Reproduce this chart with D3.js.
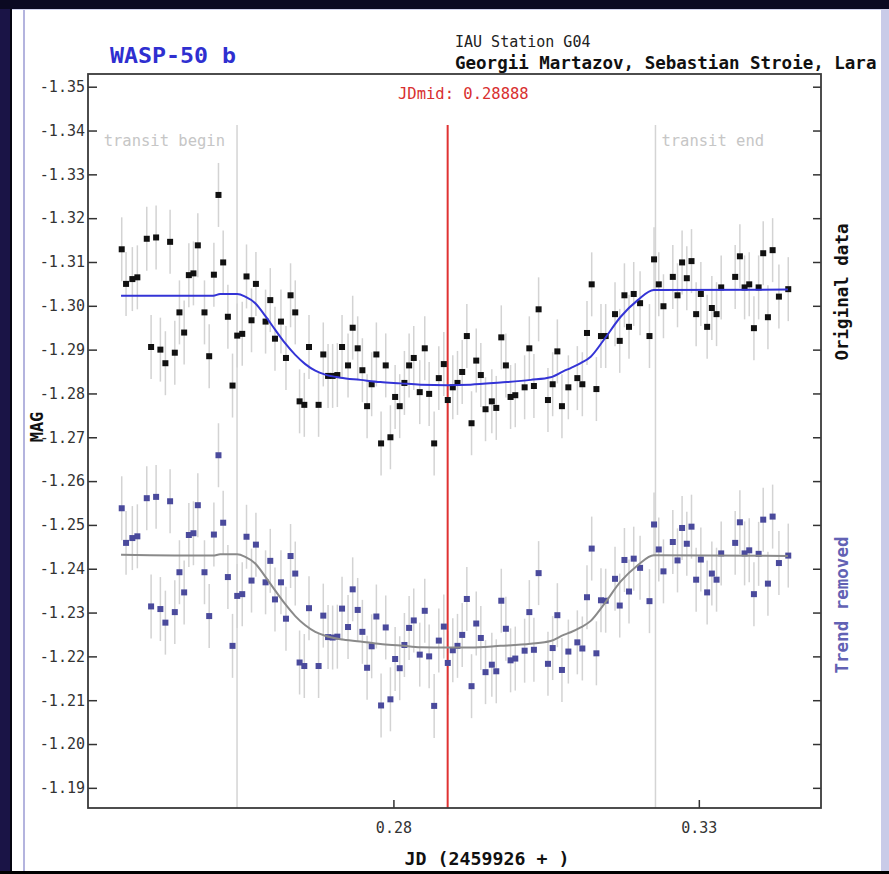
<!DOCTYPE html>
<html lang="en">
<head>
    <meta charset="UTF-8">
    <title>WASP-50 b light curve</title>
    <script src="https://d3js.org/d3.v7.min.js"></script>
    <style>
        body { margin: 0; background: #1a1446; }
        text { font-family: "DejaVu Sans Mono", monospace; }
    </style>
</head>
<body>
    <div id="lc"></div>
    <script>
        // observation times (JD - 2459926)
        const jd = [0.23552, 0.23623, 0.23726, 0.23808, 0.23962, 0.24033, 0.24115, 0.24185, 0.24267, 0.24344,
            0.24421, 0.24497, 0.24574, 0.24651, 0.24726, 0.24798, 0.24907, 0.24984, 0.25061, 0.25136,
            0.25213, 0.25290, 0.25366, 0.25443, 0.25525, 0.25595, 0.25677, 0.25749, 0.25907, 0.25984,
            0.26061, 0.26159, 0.26241, 0.26316, 0.26393, 0.26464, 0.26541, 0.26618, 0.26775, 0.26852,
            0.26930, 0.27005, 0.27082, 0.27159, 0.27257, 0.27333, 0.27415, 0.27492, 0.27569, 0.27644,
            0.27721, 0.27798, 0.27874, 0.27951, 0.28028, 0.28103, 0.28180, 0.28257, 0.28333, 0.28431,
            0.28513, 0.28585, 0.28667, 0.28743, 0.28825, 0.28890, 0.28972, 0.29049, 0.29126, 0.29202,
            0.29279, 0.29356, 0.29431, 0.29508, 0.29611, 0.29684, 0.29766, 0.29841, 0.29918, 0.29995,
            0.30148, 0.30225, 0.30300, 0.30377, 0.30530, 0.30607, 0.30684, 0.30759, 0.30864, 0.31011,
            0.31093, 0.31169, 0.31246, 0.31323, 0.31398, 0.31475, 0.31628, 0.31705, 0.31782, 0.31857,
            0.31934, 0.32038, 0.32192, 0.32267, 0.32344, 0.32421, 0.32574, 0.32651, 0.32726, 0.32803,
            0.32880, 0.32956, 0.33033, 0.33136, 0.33213, 0.33290, 0.33366, 0.33595, 0.33672, 0.33749,
            0.33825, 0.33902, 0.33979, 0.34054, 0.34131, 0.34208, 0.34311, 0.34464];

        // original magnitudes
        const magOrig = [-1.3129, -1.3050, -1.3061, -1.3065, -1.3153, -1.2906, -1.3156, -1.2900, -1.2869, -1.3146,
            -1.2893, -1.2985, -1.2939, -1.3070, -1.3074, -1.3138, -1.2985, -1.2885, -1.3071, -1.3253,
            -1.3099, -1.2975, -1.2818, -1.2932, -1.2936, -1.3067, -1.2967, -1.3050, -1.2964, -1.3013,
            -1.2925, -1.2964, -1.2881, -1.3024, -1.2985, -1.2782, -1.2774, -1.2906, -1.2774, -1.2889,
            -1.2840, -1.2840, -1.2842, -1.2906, -1.2864, -1.2950, -1.2903, -1.2853, -1.2771, -1.2821,
            -1.2889, -1.2686, -1.2864, -1.2700, -1.2792, -1.2771, -1.2824, -1.2864, -1.2881, -1.2803,
            -1.2903, -1.2799, -1.2686, -1.2835, -1.2867, -1.2785, -1.2814, -1.2824, -1.2849, -1.2931,
            -1.2732, -1.2875, -1.2842, -1.2764, -1.2782, -1.2767, -1.2928, -1.2864, -1.2792, -1.2796,
            -1.2814, -1.2903, -1.2817, -1.2992, -1.2785, -1.2821, -1.2896, -1.2771, -1.2814, -1.2835,
            -1.2821, -1.2938, -1.3049, -1.2810, -1.2931, -1.2931, -1.2981, -1.2920, -1.3024, -1.2952,
            -1.3027, -1.3006, -1.2931, -1.3106, -1.3049, -1.2999, -1.3066, -1.3024, -1.3099, -1.3063,
            -1.3102, -1.2981, -1.3027, -1.2952, -1.2995, -1.2981, -1.3042, -1.3066, -1.3113, -1.3042,
            -1.3049, -1.2949, -1.3042, -1.3120, -1.2974, -1.3127, -1.3021, -1.3038];

        // trend removed magnitudes
        const magDetr = [-1.2538, -1.2459, -1.2470, -1.2474, -1.2561, -1.2314, -1.2564, -1.2308, -1.2277, -1.2554,
            -1.2301, -1.2392, -1.2346, -1.2477, -1.2481, -1.2545, -1.2392, -1.2292, -1.2478, -1.2659,
            -1.2505, -1.2381, -1.2224, -1.2338, -1.2342, -1.2473, -1.2373, -1.2455, -1.2369, -1.2418,
            -1.2330, -1.2369, -1.2286, -1.2429, -1.2389, -1.2186, -1.2178, -1.2310, -1.2178, -1.2293,
            -1.2244, -1.2243, -1.2245, -1.2309, -1.2267, -1.2353, -1.2306, -1.2256, -1.2174, -1.2223,
            -1.2291, -1.2088, -1.2266, -1.2102, -1.2194, -1.2173, -1.2226, -1.2265, -1.2282, -1.2204,
            -1.2304, -1.2200, -1.2087, -1.2236, -1.2268, -1.2185, -1.2214, -1.2224, -1.2249, -1.2331,
            -1.2132, -1.2275, -1.2242, -1.2164, -1.2181, -1.2166, -1.2327, -1.2263, -1.2191, -1.2195,
            -1.2213, -1.2301, -1.2215, -1.2390, -1.2183, -1.2219, -1.2294, -1.2169, -1.2211, -1.2232,
            -1.2218, -1.2335, -1.2446, -1.2207, -1.2328, -1.2327, -1.2377, -1.2316, -1.2420, -1.2348,
            -1.2423, -1.2402, -1.2326, -1.2501, -1.2444, -1.2394, -1.2461, -1.2419, -1.2493, -1.2457,
            -1.2496, -1.2375, -1.2421, -1.2346, -1.2389, -1.2375, -1.2435, -1.2459, -1.2506, -1.2435,
            -1.2442, -1.2342, -1.2434, -1.2512, -1.2366, -1.2519, -1.2413, -1.2430];

        const magErr = 0.0073;

        // transit model
        const modelJd = [0.23541, 0.25049, 0.25164, 0.25443, 0.25574, 0.25738, 0.25902, 0.26066, 0.26230, 0.26393,
            0.26557, 0.26721, 0.26885, 0.27131, 0.27459, 0.27787, 0.28115, 0.28443, 0.28885, 0.29262,
            0.29754, 0.30246, 0.30574, 0.30787, 0.30902, 0.31066, 0.31230, 0.31443, 0.31721, 0.32000,
            0.32262, 0.34459];
        const modelOrig = [-1.3023, -1.3023, -1.3027, -1.3027, -1.3021, -1.3006, -1.2977, -1.2945, -1.2914, -1.2888,
            -1.2867, -1.2852, -1.2843, -1.2836, -1.2831, -1.2826, -1.2823, -1.2820, -1.2819, -1.2820,
            -1.2825, -1.2831, -1.2837, -1.2851, -1.2858, -1.2869, -1.2884, -1.2922, -1.2975, -1.3013,
            -1.3036, -1.3037];
        const modelDetr = [-1.2432, -1.2430, -1.2433, -1.2433, -1.2427, -1.2412, -1.2382, -1.2350, -1.2319, -1.2292,
            -1.2271, -1.2256, -1.2247, -1.2239, -1.2234, -1.2228, -1.2225, -1.2221, -1.2220, -1.2220,
            -1.2224, -1.2229, -1.2235, -1.2249, -1.2255, -1.2266, -1.2281, -1.2318, -1.2371, -1.2408,
            -1.2431, -1.2429];

        const yTicks = [-1.35, -1.34, -1.33, -1.32, -1.31, -1.30, -1.29, -1.28, -1.27, -1.26,
            -1.25, -1.24, -1.23, -1.22, -1.21, -1.20, -1.19];
        const xTicks = [0.28, 0.33];
        const jdMid = 0.28888, transitBegin = 0.2544, transitEnd = 0.3229;

        const W = 889, H = 874;
        const margin = {top: 74, right: 68, bottom: 66, left: 88},
            width = W - margin.left - margin.right,
            height = H - margin.top - margin.bottom;

        const root = d3.select('#lc')
            .append('svg')
                .attr('width', W)
                .attr('height', H)
                .style('display', 'block');

        // page frame
        root.append('rect').attr('width', W).attr('height', H).attr('fill', '#1a1446');
        root.append('rect').attr('width', W).attr('height', 9).attr('fill', '#0b0922');
        root.append('rect').attr('x', 10).attr('y', 9).attr('width', 3).attr('height', 862).attr('fill', '#050510');
        root.append('rect').attr('x', 12).attr('y', 9).attr('width', W - 12).attr('height', 862).attr('fill', '#ffffff');
        root.append('rect').attr('x', 881).attr('y', 10).attr('width', 8).attr('height', 861).attr('fill', '#c9cbe8');
        root.append('line').attr('x1', 12).attr('x2', W).attr('y1', 9.5).attr('y2', 9.5)
            .attr('stroke', '#cfd0ec').attr('stroke-width', 1);
        root.append('line').attr('x1', 24).attr('x2', 24).attr('y1', 10).attr('y2', 871)
            .attr('stroke', '#b4b4de').attr('stroke-width', 2);
        root.append('rect').attr('y', 871).attr('width', W).attr('height', 3).attr('fill', '#000');

        const svg = root.append('g')
            .attr('transform', `translate(${margin.left}, ${margin.top})`);

        const x = d3.scaleLinear()
            .domain([0.23, 0.35])
            .range([0, width]);
        const y = d3.scaleLinear()
            .domain([-1.3529, -1.1854])
            .range([0, height]);

        // transit markers
        const lineTop = 51;
        [transitBegin, transitEnd].forEach(t => {
            svg.append('line')
                .attr('x1', x(t)).attr('x2', x(t))
                .attr('y1', lineTop).attr('y2', height)
                .attr('stroke', '#d4d4d4').attr('stroke-width', 1.5);
        });
        svg.append('text')
            .attr('x', x(transitBegin) - 12).attr('y', 72)
            .attr('text-anchor', 'end')
            .attr('font-size', 15.5).attr('fill', '#c6c6c6')
            .text('transit begin');
        svg.append('text')
            .attr('x', x(transitEnd) + 6).attr('y', 72)
            .attr('font-size', 15.5).attr('fill', '#c6c6c6')
            .text('transit end');

        // error bars + points
        const data = jd.map((d, i) => ({jd: d, orig: magOrig[i], detr: magDetr[i]}));
        const series = [
            {key: 'orig', color: '#111111'},
            {key: 'detr', color: '#4a4a9c'}
        ];
        series.forEach(s => {
            svg.append('g')
                .selectAll('line')
                .data(data)
                .join('line')
                    .attr('x1', d => x(d.jd)).attr('x2', d => x(d.jd))
                    .attr('y1', d => y(d[s.key] - magErr))
                    .attr('y2', d => y(d[s.key] + magErr))
                    .attr('stroke', '#d3d3d3')
                    .attr('stroke-width', 1.5);
        });

        // mid transit line
        svg.append('line')
            .attr('x1', x(jdMid)).attr('x2', x(jdMid))
            .attr('y1', lineTop).attr('y2', height)
            .attr('stroke', '#e03232').attr('stroke-width', 2);

        series.forEach(s => {
            svg.append('g')
                .selectAll('rect')
                .data(data)
                .join('rect')
                    .attr('x', d => x(d.jd) - 3)
                    .attr('y', d => y(d[s.key]) - 3)
                    .attr('width', 6)
                    .attr('height', 6)
                    .attr('fill', s.color);
        });

        // model curves
        const model = modelJd.map((d, i) => ({jd: d, orig: modelOrig[i], detr: modelDetr[i]}));
        [['orig', '#3434d6'], ['detr', '#8a8a8a']].forEach(([k, c]) => {
            svg.append('path')
                .datum(model)
                .attr('fill', 'none')
                .attr('stroke', c)
                .attr('stroke-width', 2)
                .attr('d', d3.line()
                    .x(d => x(d.jd))
                    .y(d => y(d[k]))
                    .curve(d3.curveMonotoneX));
        });

        // axes
        const fmt = d => d.toFixed(2);
        svg.append('g')
            .call(d3.axisLeft(y).tickValues(yTicks).tickFormat(fmt).tickSize(-9).tickPadding(3))
            .call(g => g.select('.domain').remove())
            .call(g => g.selectAll('text').attr('font-size', 15).attr('fill', '#333')
                .attr('font-family', '"DejaVu Sans Mono", monospace'));
        svg.append('g')
            .attr('transform', `translate(${width}, 0)`)
            .call(d3.axisRight(y).tickValues(yTicks).tickFormat('').tickSize(-8))
            .call(g => g.select('.domain').remove());
        svg.append('g')
            .attr('transform', `translate(0, ${height})`)
            .call(d3.axisBottom(x).tickValues(xTicks).tickFormat(fmt).tickSize(-8).tickPadding(14))
            .call(g => g.select('.domain').remove())
            .call(g => g.selectAll('text').attr('font-size', 15).attr('fill', '#333')
                .attr('font-family', '"DejaVu Sans Mono", monospace'));
        svg.selectAll('.tick line').attr('stroke', '#333').attr('stroke-width', 1.5);

        svg.append('rect')
            .attr('width', width).attr('height', height)
            .attr('fill', 'none')
            .attr('stroke', '#3a3a3a').attr('stroke-width', 1.8);

        // titles and labels
        root.append('text')
            .attr('x', 110).attr('y', 63)
            .attr('font-size', 21).attr('font-weight', 'bold').attr('fill', '#2f2fd0')
            .attr('textLength', 126).attr('lengthAdjust', 'spacingAndGlyphs')
            .text('WASP-50 b');
        root.append('text')
            .attr('x', 455).attr('y', 46.5)
            .attr('font-size', 15).attr('fill', '#222')
            .text('IAU Station G04');
        root.append('text')
            .attr('x', 455).attr('y', 68.5)
            .attr('font-size', 17.5).attr('font-weight', 'bold').attr('fill', '#111')
            .text('Georgii Martazov, Sebastian Stroie, Lara');
        root.append('text')
            .attr('x', 398).attr('y', 99)
            .attr('font-size', 15.5).attr('fill', '#d83030')
            .text('JDmid: 0.28888');
        root.append('text')
            .attr('x', 487).attr('y', 865)
            .attr('text-anchor', 'middle')
            .attr('font-size', 17).attr('font-weight', 'bold').attr('fill', '#111')
            .attr('textLength', 165).attr('lengthAdjust', 'spacingAndGlyphs')
            .text('JD (2459926 + )');
        root.append('text')
            .attr('transform', 'translate(43, 427) rotate(-90)')
            .attr('text-anchor', 'middle')
            .attr('font-size', 17).attr('font-weight', 'bold').attr('fill', '#111')
            .text('MAG');
        root.append('text')
            .attr('transform', 'translate(848, 292) rotate(-90)')
            .attr('text-anchor', 'middle')
            .attr('font-size', 17.5).attr('font-weight', 'bold').attr('fill', '#111')
            .text('Original data');
        root.append('text')
            .attr('transform', 'translate(848, 605) rotate(-90)')
            .attr('text-anchor', 'middle')
            .attr('font-size', 17.5).attr('font-weight', 'bold').attr('fill', '#6262b4')
            .text('Trend removed');
    </script>
</body>
</html>
